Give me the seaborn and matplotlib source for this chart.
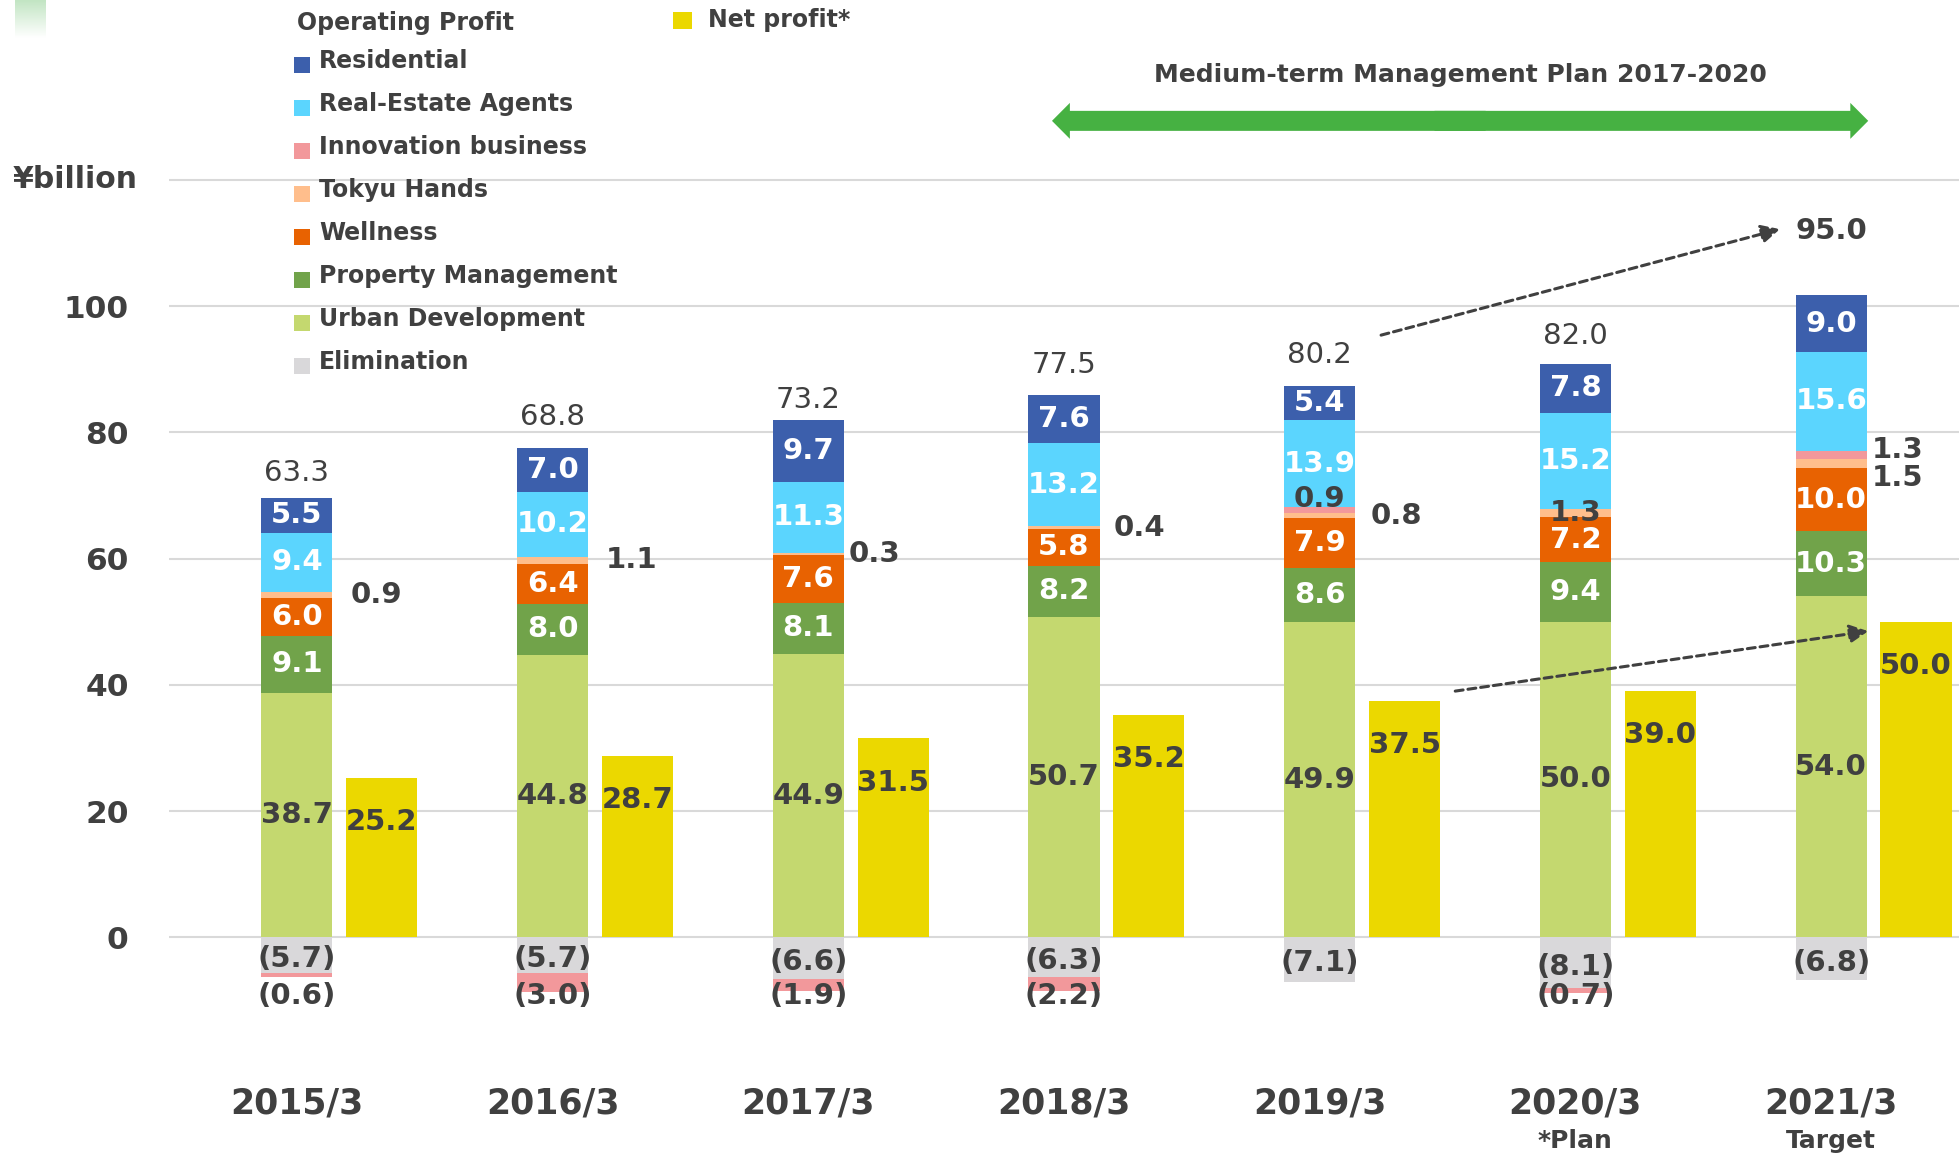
import matplotlib
matplotlib.use("Agg")
import matplotlib.pyplot as plt
import matplotlib.patches as mpatches
from matplotlib.colors import LinearSegmentedColormap
import numpy as np
import seaborn as sns

# ---- data (¥billion) ----
years = ["2015/3", "2016/3", "2017/3", "2018/3", "2019/3", "2020/3", "2021/3"]
sub_labels = ["", "", "", "", "", "*Plan", "Target"]

urban_dev = [38.7, 44.8, 44.9, 50.7, 49.9, 50.0, 54.0]
property_mgmt = [9.1, 8.0, 8.1, 8.2, 8.6, 9.4, 10.3]
wellness = [6.0, 6.4, 7.6, 5.8, 7.9, 7.2, 10.0]
tokyu_hands = [0.9, 1.1, 0.3, 0.4, 0.8, 1.3, 1.5]
innovation = [-0.6, -3.0, -1.9, -2.2, 0.9, -0.7, 1.3]
real_estate = [9.4, 10.2, 11.3, 13.2, 13.9, 15.2, 15.6]
residential = [5.5, 7.0, 9.7, 7.6, 5.4, 7.8, 9.0]
elimination = [-5.7, -5.7, -6.6, -6.3, -7.1, -8.1, -6.8]
op_total = [63.3, 68.8, 73.2, 77.5, 80.2, 82.0, 95.0]
net_profit = [25.2, 28.7, 31.5, 35.2, 37.5, 39.0, 50.0]

# ---- style ----
DARK = "#404040"
C_RES = "#3C5FAC"
C_REA = "#5BD5FE"
C_INN = "#F2989B"
C_TH = "#FFBE8C"
C_WEL = "#E86201"
C_PM = "#71A34A"
C_UD = "#C4D86F"
C_ELIM = "#D9D8DA"
C_NET = "#EBD800"
C_ARROW = "#46B142"

sns.set_style("white")
plt.rcParams["font.family"] = ["DejaVu Sans"]

W, H = 1959, 1155
fig = plt.figure(figsize=(W / 100, H / 100), dpi=100)
ax = fig.add_axes([169 / W, 0, 1790 / W, 1])

BAR_W = 0.278
NET_DX = 0.332
x = np.arange(len(years))

innov_pos = np.clip(innovation, 0, None)
innov_neg = np.clip(innovation, None, 0)

pos_layers = [
    ("Urban Development", urban_dev, C_UD),
    ("Property Management", property_mgmt, C_PM),
    ("Wellness", wellness, C_WEL),
    ("Tokyu Hands", tokyu_hands, C_TH),
    ("Innovation business", innov_pos, C_INN),
    ("Real-Estate Agents", real_estate, C_REA),
    ("Residential", residential, C_RES),
]
cum = np.cumsum([np.asarray(v, float) for _, v, _ in pos_layers], axis=0)

# stacked positive part: draw cumulative totals from the top layer down
for k in reversed(range(len(pos_layers))):
    sns.barplot(x=x, y=cum[k], native_scale=True, orient="x", width=BAR_W,
                color=pos_layers[k][2], saturation=1, linewidth=0,
                errorbar=None, ax=ax)

# negative part: elimination then innovation losses below it
neg_total = np.asarray(elimination) + innov_neg
sns.barplot(x=x, y=neg_total, native_scale=True, orient="x", width=BAR_W,
            color=C_INN, saturation=1, linewidth=0, errorbar=None, ax=ax)
sns.barplot(x=x, y=elimination, native_scale=True, orient="x", width=BAR_W,
            color=C_ELIM, saturation=1, linewidth=0, errorbar=None, ax=ax)

# net profit
sns.barplot(x=x + NET_DX, y=net_profit, native_scale=True, orient="x", width=BAR_W,
            color=C_NET, saturation=1, linewidth=0, errorbar=None, ax=ax)

ax.set_xlim(-0.5, 6.5)
ax.set_ylim(-34.5, 148.5)
ax.set_xlabel("")
ax.set_ylabel("")
ax.set_xticks([])
ax.set_yticks(range(0, 121, 20))
ax.set_yticklabels([str(v) for v in range(0, 101, 20)] + [""])
ax.tick_params(axis="y", length=0, pad=29, labelsize=22.5, labelcolor=DARK)
for t in ax.get_yticklabels():
    t.set_fontweight("bold")
ax.grid(axis="y", color="#D9D9D9", linewidth=1.5)
ax.set_axisbelow(True)
for s in ax.spines.values():
    s.set_visible(False)
ax.patch.set_alpha(0)

ax.text(-0.0176, 120, "¥billion", transform=ax.get_yaxis_transform(), ha="right",
        va="center", fontsize=21.5, fontweight="bold", color=DARK)

FS = 21
lab = dict(ha="center", va="center", fontsize=FS, fontweight="bold")

# in-bar labels
white_layers = {1, 2, 5, 6}
for k, (name, vals, col) in enumerate(pos_layers):
    if k in (3, 4):
        continue
    for i, v in enumerate(vals):
        yc = cum[k][i] - v / 2
        ax.text(i, yc, f"{v:.1f}", color="white" if k in white_layers else DARK, **lab)

# Tokyu Hands labels (outside on the right, except 2020 inside)
th_dx = [0.07, 0.07, 0.02, 0.055, 0.06, None, 0.02]
th_dy = [0, 0, 0, 0, 0, 0, -2.35]
for i, v in enumerate(tokyu_hands):
    yc = cum[3][i] - v / 2
    if th_dx[i] is None:
        ax.text(i, yc, f"{v:.1f}", color=DARK, **lab)
    else:
        ax.text(i + BAR_W / 2 + th_dx[i], yc + th_dy[i], f"{v:.1f}", color=DARK,
                ha="left", va="center", fontsize=FS, fontweight="bold")

# positive innovation labels
for i, v in enumerate(innovation):
    if v <= 0:
        continue
    yc = cum[4][i] - v / 2
    if i == 4:
        ax.text(i, yc + 1.85, f"{v:.1f}", color=DARK, **lab)
    else:
        ax.text(i + BAR_W / 2 + 0.02, yc + 0.75, f"{v:.1f}", color=DARK,
                ha="left", va="center", fontsize=FS, fontweight="bold")

# negative labels
for i, v in enumerate(elimination):
    ax.text(i, v / 2 - 0.6, f"({abs(v):.1f})", color=DARK, **lab)
for i, v in enumerate(innovation):
    if v < 0:
        ax.text(i, -9.3, f"({abs(v):.1f})", color=DARK, **lab)

# net profit labels
for i, v in enumerate(net_profit):
    ax.text(i + NET_DX, v - 7, f"{v:.1f}", color=DARK, **lab)

# operating profit totals
total_dy = [3.9, 4.9, 3.2, 4.8, 4.9, 4.3]
for i, v in enumerate(op_total):
    if i == len(op_total) - 1:
        ax.text(i, 111.9, f"{v:.1f}", color=DARK, **lab)
    else:
        ax.text(i, cum[-1][i] + total_dy[i], f"{v:.1f}", color=DARK, ha="center",
                va="center", fontsize=FS)

# category labels
for i, (yr, sub) in enumerate(zip(years, sub_labels)):
    ax.text(i, -26.3, yr, ha="center", va="center", fontsize=25,
            fontweight="bold", color=DARK)
    if sub:
        ax.text(i, -32.3, sub, ha="center", va="center", fontsize=18,
                fontweight="bold", color=DARK)

# dashed trend arrows
dash = dict(arrowstyle="-|>", color=DARK, lw=2.2, linestyle=(0, (2.6, 1.6)),
            mutation_scale=28, shrinkA=0, shrinkB=0)
ax.annotate("", xy=(5.80, 112.2), xytext=(4.24, 95.4), arrowprops=dash)
ax.annotate("", xy=(6.145, 48.5), xytext=(4.53, 39.0), arrowprops=dash)

# medium-term plan double arrow (two heads overlapping in the middle)
ya, xl, xr = 129.35, 2.953, 6.145
xm = (xl + xr) / 2
for tip, start in ((xl, xm + 0.1), (xr, xm - 0.1)):
    ax.add_patch(mpatches.FancyArrow(start, ya, tip - start, 0, width=3.17,
                                     head_width=5.7, head_length=0.07,
                                     length_includes_head=True, color=C_ARROW,
                                     linewidth=0))
ax.text(xm, 136.6, "Medium-term Management Plan 2017-2020", ha="center", va="center",
        fontsize=18, fontweight="bold", color=DARK)

# legend
def fx(px):
    return px / W

def fy(py):
    return 1 - py / H

fig.text(fx(297), fy(23), "Operating Profit", ha="left", va="center", fontsize=17,
         fontweight="bold", color=DARK)
legend_items = [
    ("Residential", C_RES), ("Real-Estate Agents", C_REA),
    ("Innovation business", C_INN), ("Tokyu Hands", C_TH),
    ("Wellness", C_WEL), ("Property Management", C_PM),
    ("Urban Development", C_UD), ("Elimination", C_ELIM),
]
for j, (name, col) in enumerate(legend_items):
    yc = 61 + j * 43.0
    fig.add_artist(mpatches.Rectangle((fx(294), fy(yc + 12)), 16 / W, 16 / H,
                                      transform=fig.transFigure, color=col, linewidth=0))
    fig.text(fx(319), fy(yc), name, ha="left", va="center", fontsize=17,
             fontweight="bold", color=DARK)
fig.add_artist(mpatches.Rectangle((fx(673), fy(29)), 19 / W, 17 / H,
                                  transform=fig.transFigure, color=C_NET, linewidth=0))
fig.text(fx(708), fy(20), "Net profit*", ha="left", va="center", fontsize=17,
         fontweight="bold", color=DARK)

# small gradient decoration in the top-left corner
gax = fig.add_axes([15 / W, 1 - 38 / H, 31 / W, 38 / H])
grad = np.linspace(0, 1, 64).reshape(-1, 1)
gcmap = LinearSegmentedColormap.from_list("g", ["#C2E5C3", "#FFFFFF"])
gax.imshow(grad, aspect="auto", cmap=gcmap)
gax.axis("off")

fig.savefig("out.png", dpi=100)
